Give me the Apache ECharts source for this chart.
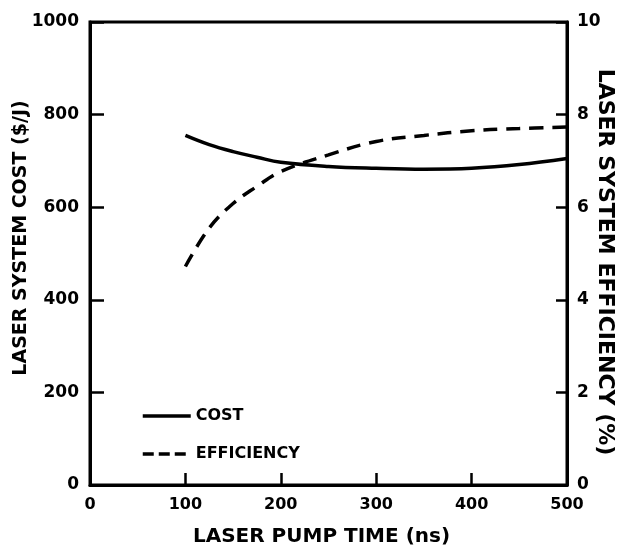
<!DOCTYPE html>
<html>
<head>
<meta charset="utf-8">
<script src="https://cdn.jsdelivr.net/npm/echarts@6/dist/echarts.min.js"></script>
<style>
html,body{margin:0;padding:0;background:#fff;}
#chart{width:622px;height:552px;}
</style>
</head>
<body>
<div id="chart"></div>
<script>
// Data
const pumpTime = [100, 125, 150, 175, 200, 250, 300, 350, 400, 450, 500];
const costValues = [755, 735, 720, 708, 697, 688, 684, 682, 684, 692, 705];
const efficiencyValues = [4.72, 5.55, 6.08, 6.45, 6.77, 7.13, 7.42, 7.55, 7.65, 7.70, 7.73];
const xTickLabels = ['0', '100', '200', '300', '400', '500'];
const costTickLabels = ['0', '200', '400', '600', '800', '1000'];
const effTickLabels = ['0', '2', '4', '6', '8', '10'];
const seriesNames = ['COST', 'EFFICIENCY'];
const xTitle = 'LASER PUMP TIME (ns)';
const leftTitle = 'LASER SYSTEM COST ($/J)';
const rightTitle = 'LASER SYSTEM EFFICIENCY (%)';

const FONT = 'DejaVu Sans';
const chart = echarts.init(document.getElementById('chart'), null, {renderer: 'canvas'});

chart.setOption({
  backgroundColor: '#ffffff',
  animation: false,
  grid: {left: 90, right: 55, top: 22, bottom: 57, show: true, borderColor: '#000', borderWidth: 3},
  legend: {
    orient: 'vertical', left: 136, top: 403, itemWidth: 48, itemHeight: 14, itemGap: 22,
    itemStyle: {opacity: 0},
    lineStyle: {width: 3.5},
    textStyle: {fontFamily: FONT, fontWeight: 'bold', fontSize: 16, color: '#000'},
    data: [
      {name: seriesNames[0]},
      {name: seriesNames[1], lineStyle: {type: [11, 5], width: 3.5}}
    ]
  },
  xAxis: {
    type: 'value', min: 0, max: 500, interval: 100,
    name: xTitle, nameLocation: 'middle', nameGap: 42,
    nameTextStyle: {fontFamily: FONT, fontWeight: 'bold', fontSize: 20, color: '#000', padding: [0, 14, 0, 0]},
    axisLine: {show: true, lineStyle: {color: '#000', width: 3}},
    axisTick: {show: true, inside: true, length: 12, lineStyle: {color: '#000', width: 2.5}},
    axisLabel: {fontFamily: FONT, fontWeight: 'bold', fontSize: 16, color: '#000', margin: 12,
      formatter: (v) => xTickLabels[Math.round(v / 100)]},
    splitLine: {show: false}
  },
  yAxis: [{
    type: 'value', min: 0, max: 1000, interval: 200, position: 'left',
    axisLine: {show: true, lineStyle: {color: '#000', width: 3}},
    axisTick: {show: true, inside: true, length: 14, lineStyle: {color: '#000', width: 2.5}},
    axisLabel: {fontFamily: FONT, fontWeight: 'bold', fontSize: 17, color: '#000', margin: 11,
      formatter: (v) => costTickLabels[Math.round(v / 200)]},
    splitLine: {show: false}
  }, {
    type: 'value', min: 0, max: 10, interval: 2, position: 'right',
    axisLine: {show: true, lineStyle: {color: '#000', width: 3}},
    axisTick: {show: true, inside: true, length: 11, lineStyle: {color: '#000', width: 2.5}},
    axisLabel: {fontFamily: FONT, fontWeight: 'bold', fontSize: 17, color: '#000', margin: 10,
      formatter: (v) => effTickLabels[Math.round(v / 2)]},
    splitLine: {show: false}
  }],
  graphic: [{
    type: 'text', x: 21, y: 238, rotation: Math.PI / 2,
    style: {text: leftTitle, fontFamily: FONT, fontWeight: 'bold', fontSize: 19, fill: '#000', align: 'center', verticalAlign: 'middle'}
  }, {
    type: 'text', x: 605, y: 262, rotation: -Math.PI / 2,
    style: {text: rightTitle, fontFamily: FONT, fontWeight: 'bold', fontSize: 22, fill: '#000', align: 'center', verticalAlign: 'middle'}
  }],
  series: [{
    name: seriesNames[0], type: 'line', yAxisIndex: 0, smooth: 0.4, symbol: 'none',
    lineStyle: {color: '#000', width: 3.5},
    itemStyle: {color: '#000'},
    data: pumpTime.map((t, i) => [t, costValues[i]])
  }, {
    name: seriesNames[1], type: 'line', yAxisIndex: 1, smooth: 0.4, symbol: 'none',
    lineStyle: {color: '#000', width: 3.5, type: [14, 9]},
    itemStyle: {color: '#000'},
    data: pumpTime.map((t, i) => [t, efficiencyValues[i]])
  }]
});
</script>
</body>
</html>
